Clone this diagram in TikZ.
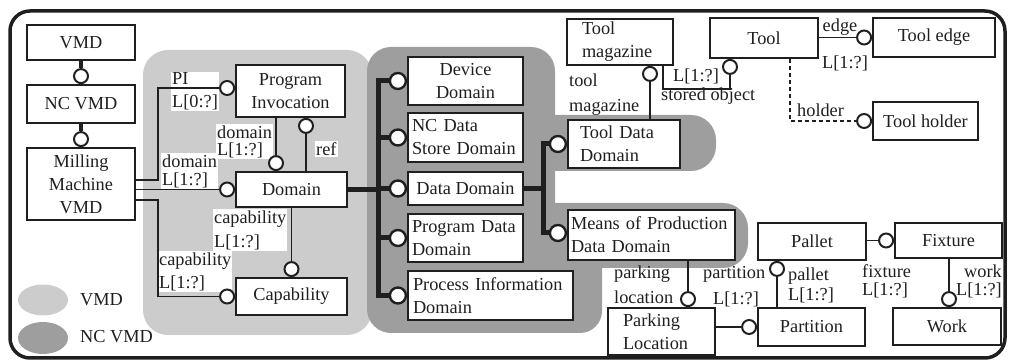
\documentclass[tikz,border=0pt]{standalone}
\usepackage{fontspec}
\setmainfont{Liberation Serif}
\usetikzlibrary{shapes.geometric}
\definecolor{vmdgray}{gray}{0.80}
\definecolor{ncgray}{gray}{0.62}
\definecolor{ink}{gray}{0.12}
\begin{document}
\hyphenpenalty=10000
\exhyphenpenalty=10000
\begin{tikzpicture}[x=1pt, y=-1pt,
  every node/.style={font=\fontsize{18.3}{23}\selectfont, text=ink},
  box/.style={draw=ink, fill=white, line width=1.8pt, inner sep=0pt, align=center},
  ring/.style={circle, draw=ink, fill=white, line width=2pt, minimum size=14pt, inner sep=0pt},
  bigring/.style={ring, minimum size=16pt, line width=2.4pt},
  link/.style={draw=ink, line width=1.8pt},
  trunk/.style={draw=ink, line width=5pt, line join=miter},
  lbl/.style={inner sep=1pt, align=left, font=\fontsize{18.3}{#1}\selectfont},
  lbl/.default=23,
  lblw/.style={lbl=#1, fill=white},
  lblw/.default=23,
]
\useasboundingbox (0,0) rectangle (1013,363);

% shaded areas: VMD and NC VMD
\fill[vmdgray, rounded corners=25pt] (143,50) rectangle (372,335);
\fill[ncgray, rounded corners=24pt] (367,47) rectangle (555,333);
\fill[ncgray, rounded corners=25pt] (500,115) rectangle (716,171);
\fill[ncgray, rounded corners=25pt] (500,203) rectangle (748,268);
\fill[ncgray, rounded corners=22pt] (500,240) rectangle (602,333);

% outer frame
\draw[ink, line width=3.5pt, rounded corners=20pt] (10,11) rectangle (1005,358);

% relation labels
\node[lblw, anchor=west] (lpi) at (171,91.5) {PI\\L[0:?]};
\node[lblw=17, anchor=west] (lpd) at (216,141.5) {domain\\L[1:?]};
\node[lblw, anchor=west] (lref) at (315,149) {ref};
\node[lblw=18, anchor=west] (lmd) at (161,171) {domain\\L[1:?]};
\node[lblw=24, anchor=west] (ldc) at (213,230) {capability\\L[1:?]};
\node[lblw, anchor=west] (lmc) at (158,271.5) {capability\\L[1:?]};
\node[lbl=25, anchor=west] (ltm) at (568,94.5) {tool\\magazine};
\node[lbl] (lso1) at (696,76) {L[1:?]};
\node[lbl, anchor=west] (lso2) at (660,96) {stored object};
\node[lbl] (ledge1) at (840,27) {edge};
\node[lbl, anchor=west] (ledge2) at (821,63) {L[1:?]};
\node[lbl, anchor=west] (lhold) at (796,110) {holder};
\node[lbl=25, anchor=west] (lpark) at (613,284.5) {parking\\location};
\node[lbl, anchor=west] (lpart1) at (702,274) {partition};
\node[lbl, anchor=west] (lpart2) at (712,299) {L[1:?]};
\node[lbl=20, anchor=west] (lpal) at (787,285) {pallet\\L[1:?]};
\node[lbl=18, anchor=west] (lfix) at (861,281) {fixture\\L[1:?]};
\node[lbl=18, anchor=east, align=right] (lwork) at (1003,281) {work\\L[1:?]};

% entities
\node[box, minimum width=108pt, minimum height=35pt] (vmd) at (81,42.5) {VMD};
\node[box, minimum width=108pt, minimum height=38pt] (ncvmd) at (81,104) {NC VMD};
\node[box, minimum width=108pt, minimum height=72pt] (mm) at (81,184) {Milling\\Machine\\VMD};
\node[box, minimum width=109pt, minimum height=52pt] (pinv) at (290.5,91) {Program\\Invocation};
\node[box, minimum width=111pt, minimum height=35pt] (dom) at (291.5,189.5) {Domain};
\node[box, minimum width=111pt, minimum height=37pt] (cap) at (291.5,296.5) {Capability};

\node[box, minimum width=115pt, minimum height=48pt] (dev) at (465.5,81) {Device\\Domain};
\node[box, minimum width=115pt, minimum height=49pt, text width=107pt, align=left] (ncds) at (465.5,137.5) {NC Data\\Store Domain};
\node[box, minimum width=115pt, minimum height=33pt] (dd) at (465.5,188.5) {Data Domain};
\node[box, minimum width=115pt, minimum height=48pt, text width=107pt, align=left] (pdd) at (465.5,238) {Program Data\\Domain};
\node[box, minimum width=165pt, minimum height=49pt, text width=155pt, align=left] (pid) at (490.5,295.5) {Process Information\\Domain};

\node[box, minimum width=112pt, minimum height=48pt, text width=88pt, align=left] (tdd) at (624,144) {Tool Data\\Domain};
\node[box, minimum width=167pt, minimum height=50pt, text width=161pt, align=left] (mpd) at (651.5,235) {Means of Production\\Data Domain};
\node[box, minimum width=106pt, minimum height=46pt, text width=76pt, align=left] (tm) at (620,42) {Tool\\magazine};
\node[box, minimum width=108pt, minimum height=40pt] (tool) at (764,38) {Tool};
\node[box, minimum width=122pt, minimum height=39pt] (tedge) at (934,37.5) {Tool edge};
\node[box, minimum width=105pt, minimum height=38pt] (thold) at (925.5,121) {Tool holder};
\node[box, minimum width=108pt, minimum height=37pt] (pallet) at (812,241.5) {Pallet};
\node[box, minimum width=107pt, minimum height=35pt] (fixture) at (948.5,240.5) {Fixture};
\node[box, minimum width=108pt, minimum height=37pt] (work) at (947,326.5) {Work};
\node[box, minimum width=107pt, minimum height=38pt] (partition) at (811.5,327) {Partition};
\node[box, minimum width=107pt, minimum height=47pt, text width=77pt, align=left] (parking) at (661.5,331.5) {Parking\\Location};

% relation ends
\node[ring, anchor=south] (r1) at (ncvmd.north) {};
\node[ring, anchor=south] (r2) at (mm.north) {};
\node[ring, anchor=east] (rpi) at ([yshift=3pt]pinv.west) {};
\node[ring, anchor=east] (rmd) at (dom.west) {};
\node[ring, anchor=east] (rmc) at (cap.west) {};
\node[ring, anchor=south] (rpd) at ([xshift=-15.5pt]dom.north) {};
\node[ring, anchor=north] (rref) at ([xshift=15.5pt]pinv.south) {};
\node[ring, anchor=south] (rdc) at (cap.north) {};
\node[bigring, anchor=east] (rdev) at (dev.west) {};
\node[bigring, anchor=east] (rncds) at (ncds.west) {};
\node[bigring, anchor=east] (rdd) at (dd.west) {};
\node[bigring, anchor=east] (rpdd) at (pdd.west) {};
\node[bigring, anchor=east] (rpid) at (pid.west) {};
\node[bigring, anchor=east] (rtdd) at (tdd.west) {};
\node[bigring, anchor=east] (rmpd) at ([yshift=2pt]mpd.west) {};
\node[ring, anchor=north] (rtm) at ([xshift=30pt]tm.south) {};
\node[ring, anchor=north] (rso) at ([xshift=-34pt]tool.south) {};
\node[ring, anchor=east] (redge) at (tedge.west) {};
\node[ring, anchor=east] (rhold) at (thold.west) {};
\node[ring, anchor=east] (rfix) at (fixture.west) {};
\node[ring, anchor=south] (rwork) at ([xshift=2pt]work.north) {};
\node[ring, anchor=north] (rpal) at ([xshift=-35pt]pallet.south) {};
\node[ring, anchor=south] (rpark) at ([xshift=26.5pt]parking.north) {};
\node[ring, anchor=east] (rpart) at (partition.west) {};

% connectors
\draw[link, line width=3.5pt] (vmd.south) -- (r1.north);
\draw[link, line width=3.5pt] (ncvmd.south) -- (r2.north);
\draw[link] ([yshift=4pt]mm.east) -- ++(22,0) |- (rpi.west);
\draw[link] (rmd.west -| mm.east) -- (rmd.west);
\draw[link] ([yshift=-16pt]mm.east) -- ++(22,0) |- (rmc.west);
\draw[link] (rpd.north |- pinv.south) -- (rpd.north);
\draw[link] (rref.south) -- (rref.south |- dom.north);
\draw[link] (dom.south -| rdc.north) -- (rdc.north);

\coordinate (tk) at (378,0);
\draw[trunk] (rdev.west) -- (rdev.west -| tk) -- (rpid.west -| tk) -- (rpid.west);
\foreach \r in {rncds,rdd,rpdd} \draw[trunk] (\r.west -| tk) -- (\r.west);
\draw[trunk] (dom.east) -- (dom.east -| tk);

\coordinate (tk2) at (543,0);
\draw[trunk] (rtdd.west) -- (rtdd.west -| tk2) -- (rmpd.west -| tk2) -- (rmpd.west);
\draw[trunk] (dd.east) -- (dd.east -| tk2);

\draw[link] (rtm.south) -- (rtm.south |- tdd.north);
\draw[link] (rso.south) -- ++(0,14) -| ([xshift=43pt]tm.south);
\draw[link] (redge.west -| tool.east) -- (redge.west);
\draw[link, dash pattern=on 4pt off 3pt] ([xshift=26pt]tool.south) |- (rhold.west);
\draw[link] (rfix.west -| pallet.east) -- (rfix.west);
\draw[link] (rwork.north |- fixture.south) -- (rwork.north);
\draw[link] (rpal.south) -- (rpal.south |- partition.north);
\draw[link] (rpark.north |- mpd.south) -- (rpark.north);
\draw[link] (rpart.west -| parking.east) -- (rpart.west);

% legend
\node[ellipse, fill=vmdgray, minimum width=50pt, minimum height=31pt, inner sep=0pt] (legv) at (43,300) {};
\node[ellipse, fill=ncgray, minimum width=50pt, minimum height=32pt, inner sep=0pt] (legn) at (43,338) {};
\node[anchor=west, inner sep=0pt] (legvt) at (80,300) {VMD};
\node[anchor=west, inner sep=0pt] (legnt) at (80,337) {NC VMD};
\end{tikzpicture}
\end{document}
